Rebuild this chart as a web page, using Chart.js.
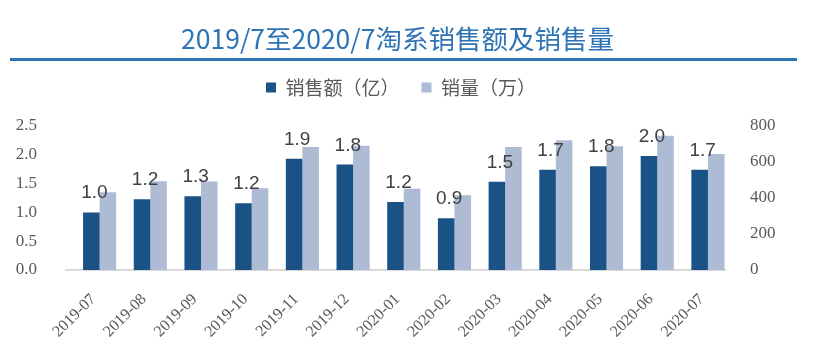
<!DOCTYPE html>
<html lang="zh">
<head>
<meta charset="UTF-8">
<script src="https://cdn.jsdelivr.net/npm/chart.js"></script>
<title>淘系销售额及销售量</title>
<style>
  html, body { margin: 0; padding: 0; background: #fff; }
  #wrap { position: relative; width: 814px; height: 354px; }
  #grafico { position: absolute; left: 0; top: 0; }
  #title {
    position: absolute; left: 0; top: 21px; width: 795px; text-align: center;
    font: 26.5px "Noto Sans CJK SC"; line-height: 34px; color: #2E74B5;
  }
  #rule { position: absolute; left: 10px; top: 58px; width: 787px; height: 3px; background: #2E74B5; }
</style>
</head>
<body>
<div id="wrap">
  <canvas id="grafico" width="814" height="354"></canvas>
  <div id="title">2019/7至2020/7淘系销售额及销售量</div>
  <div id="rule"></div>
</div>
<script>
const months = ['2019-07', '2019-08', '2019-09', '2019-10', '2019-11', '2019-12', '2020-01',
                '2020-02', '2020-03', '2020-04', '2020-05', '2020-06', '2020-07'];
// 销售额（亿）
const salesAmount = [1.00, 1.23, 1.28, 1.16, 1.93, 1.83, 1.18, 0.90, 1.53, 1.74, 1.80, 1.98, 1.74];
// 销量（万）
const salesVolume = [432, 493, 491, 454, 684, 690, 451, 415, 684, 721, 688, 746, 644];
const leftTicks = [0, 0.5, 1.0, 1.5, 2.0, 2.5];
const rightTicks = [0, 200, 400, 600, 800];
// empty slot: the original leaves a blank bar-width on the left of each pair
const emptySlot = months.map(() => null);

const tickFont = { family: 'Liberation Serif', size: 17 };

// push the plot below the legend
const legendGap = {
  id: 'legendGap',
  beforeInit(chart) {
    const fit = chart.legend.fit;
    chart.legend.fit = function () {
      fit.bind(chart.legend)();
      this.height += 19;
    };
  }
};

// value labels over the dark bars
const valueLabels = {
  id: 'valueLabels',
  afterDatasetsDraw(chart) {
    const ctx = chart.ctx;
    const meta = chart.getDatasetMeta(1);
    ctx.save();
    ctx.font = '19px "Liberation Sans"';
    ctx.fillStyle = '#404040';
    ctx.textAlign = 'center';
    ctx.textBaseline = 'alphabetic';
    meta.data.forEach((bar, i) => {
      ctx.fillText(salesAmount[i].toFixed(1), bar.x + 3, bar.y - 14);
    });
    ctx.restore();
  }
};

new Chart(document.getElementById('grafico'), {
  type: 'bar',
  data: {
    labels: months,
    datasets: [
      { label: '', data: emptySlot, yAxisID: 'y', backgroundColor: 'rgba(0,0,0,0)',
        categoryPercentage: 0.98, barPercentage: 1.0 },
      { label: '销售额（亿）', data: salesAmount, yAxisID: 'y', backgroundColor: '#1A5286',
        categoryPercentage: 0.98, barPercentage: 1.0 },
      { label: '销量（万）', data: salesVolume, yAxisID: 'y1', backgroundColor: '#ADBBD4',
        categoryPercentage: 0.98, barPercentage: 1.0 }
    ]
  },
  options: {
    responsive: false,
    animation: false,
    devicePixelRatio: 1,
    layout: { padding: { top: 56, left: 0, right: 12, bottom: 0 } },
    plugins: {
      title: { display: false },
      tooltip: { enabled: false },
      legend: {
        position: 'top',
        labels: {
          boxWidth: 10, boxHeight: 10, padding: 22,
          color: '#595959',
          font: { family: 'Noto Sans CJK SC', size: 19 },
          filter: item => item.text !== ''
        }
      }
    },
    scales: {
      x: {
        grid: { display: false },
        border: { display: true, color: '#D9D9D9', width: 2 },
        ticks: { color: '#595959', font: { family: 'Liberation Serif', size: 16 },
                 minRotation: 45, maxRotation: 45, padding: 12, labelOffset: 2, autoSkip: false },
        afterFit(scale) { scale.height = 84; }
      },
      y: {
        position: 'left',
        min: leftTicks[0], max: leftTicks[leftTicks.length - 1],
        grid: { display: false },
        border: { display: false },
        afterBuildTicks(scale) { scale.ticks = leftTicks.map(v => ({ value: v })); },
        ticks: { color: '#595959', font: tickFont, padding: 21,
                 callback: v => Number(v).toFixed(1) },
        afterFit(scale) { scale.width = 66; }
      },
      y1: {
        position: 'right',
        min: rightTicks[0], max: rightTicks[rightTicks.length - 1],
        grid: { display: false },
        border: { display: false },
        afterBuildTicks(scale) { scale.ticks = rightTicks.map(v => ({ value: v })); },
        ticks: { color: '#595959', font: tickFont, padding: 17 },
        afterFit(scale) { scale.width = 77; }
      }
    }
  },
  plugins: [legendGap, valueLabels]
});
</script>
</body>
</html>
